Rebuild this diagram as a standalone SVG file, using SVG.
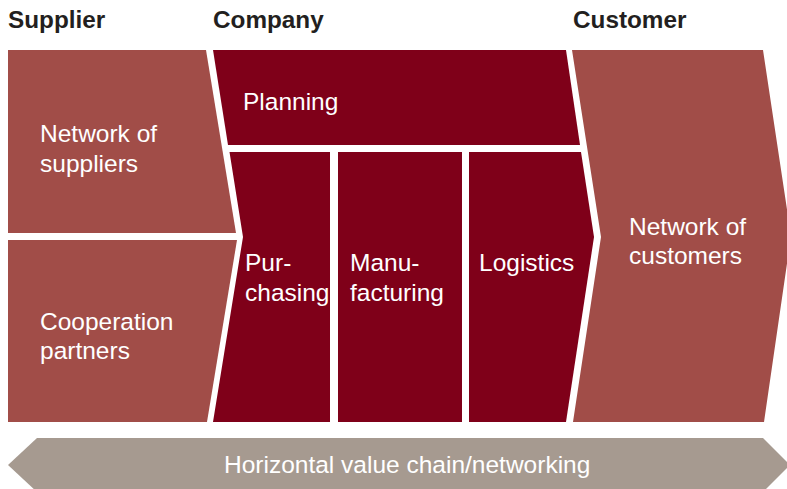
<svg xmlns="http://www.w3.org/2000/svg" width="787" height="489" viewBox="0 0 787 489">
<style>
.hdr{font-family:"Liberation Sans",Arial,sans-serif;font-weight:bold;font-size:24.3px;fill:#231f20}
.lbl{font-family:"Liberation Sans",Arial,sans-serif;font-size:24.5px;fill:#ffffff}
.ext{fill:#a14d48}
.co{fill:#7f0019}
.hz{fill:#a69a90}
</style>
<rect width="787" height="489" fill="#ffffff"/>
<g id="headers">
<text class="hdr" x="8" y="28">Supplier</text>
<text class="hdr" x="213" y="28">Company</text>
<text class="hdr" x="573" y="28">Customer</text>
</g>
<g id="suppliers">
<polygon class="ext" points="8,50 206,50 236,233 8,233"/>
<text class="lbl" x="40" y="142">Network of</text>
<text class="lbl" x="40" y="171.5">suppliers</text>
</g>
<g id="cooperation">
<polygon class="ext" points="8,240 237,240 207,422 8,422"/>
<text class="lbl" x="40" y="330">Cooperation</text>
<text class="lbl" x="40" y="359">partners</text>
</g>
<g id="planning">
<polygon class="co" points="213,50 566,50 580,145 228,145"/>
<text class="lbl" x="243" y="110">Planning</text>
</g>
<g id="purchasing">
<polygon class="co" points="229.5,152 330,152 330,422 213,422 243,237"/>
<text class="lbl" x="245" y="271">Pur-</text>
<text class="lbl" x="245" y="300.5">chasing</text>
</g>
<g id="manufacturing">
<polygon class="co" points="338,152 462,152 462,422 338,422"/>
<text class="lbl" x="350" y="271">Manu-</text>
<text class="lbl" x="350" y="300.5">facturing</text>
</g>
<g id="logistics">
<polygon class="co" points="469,152 581,152 594,237 566,422 469,422"/>
<text class="lbl" x="479" y="271">Logistics</text>
</g>
<g id="customers">
<polygon class="ext" points="572,50 763,50 791,236 764,422 573,422 601,237"/>
<text class="lbl" x="629" y="234.5">Network of</text>
<text class="lbl" x="629" y="264">customers</text>
</g>
<g id="horizontal">
<polygon class="hz" points="37,438 763,438 790,465 763,492 37,492 8,465"/>
<text class="lbl" x="224" y="473">Horizontal value chain/networking</text>
</g>
<g id="connectors"></g>
</svg>
